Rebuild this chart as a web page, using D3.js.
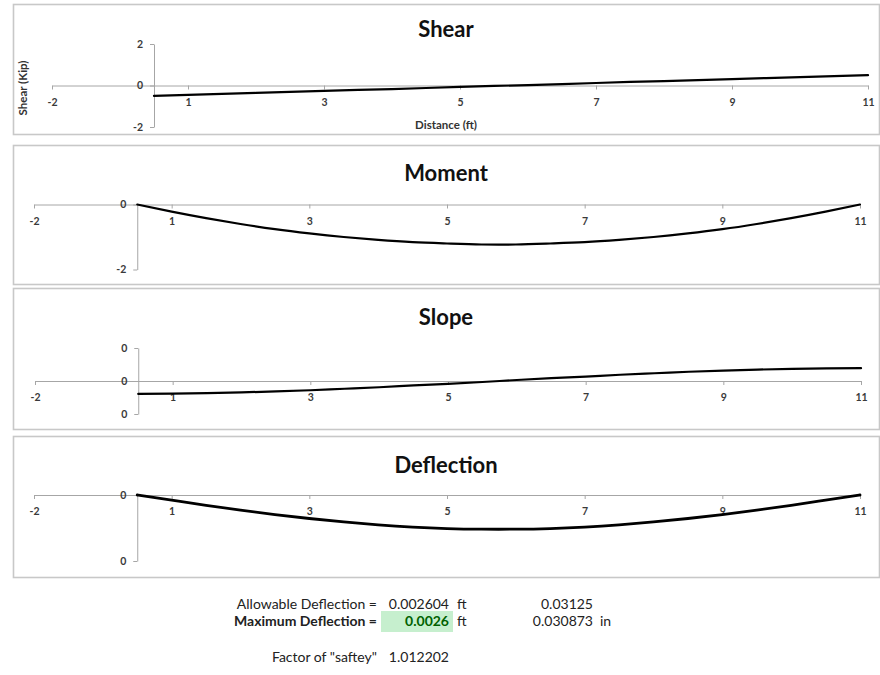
<!DOCTYPE html>
<html>
<head>
<meta charset="utf-8">
<script src="https://cdn.jsdelivr.net/npm/d3@7"></script>
<style>
  html, body { margin: 0; padding: 0; background: #fff; }
  svg { display: block; }
  text { font-family: Lato, "Open Sans", "DejaVu Sans", sans-serif; }
</style>
</head>
<body>
<svg id="chart" width="880" height="675"></svg>
<script>
// ---------------- data ----------------
const distance = [0.5, 1, 1.5, 2, 2.5, 3, 3.5, 4, 4.5, 5, 5.5, 6, 6.5, 7, 7.5, 8, 8.5, 9, 9.5, 10, 10.5, 11];
const shear = [-0.50, -0.45, -0.40, -0.36, -0.31, -0.26, -0.21, -0.17, -0.12, -0.07, -0.02, 0.02, 0.07, 0.12, 0.17, 0.21, 0.26, 0.31, 0.36, 0.40, 0.45, 0.50];
const moment = [0, -0.22, -0.42, -0.60, -0.76, -0.89, -1.00, -1.09, -1.16, -1.20, -1.23, -1.23, -1.20, -1.16, -1.09, -1.00, -0.89, -0.76, -0.60, -0.42, -0.22, 0];
const slope = [-0.00078, -0.00077, -0.00074, -0.00069, -0.00063, -0.00056, -0.00047, -0.00038, -0.00027, -0.00017, -0.00006, 0.00006, 0.00017, 0.00027, 0.00038, 0.00047, 0.00056, 0.00063, 0.00069, 0.00074, 0.00077, 0.00078];
const deflection = [0, -0.00039, -0.00078, -0.00114, -0.00148, -0.00178, -0.00204, -0.00226, -0.00243, -0.00254, -0.00259, -0.00259, -0.00254, -0.00243, -0.00226, -0.00204, -0.00178, -0.00148, -0.00114, -0.00078, -0.00039, 0];

const xTickValues = [-1, 1, 3, 5, 7, 9, 11];
const xTickLabels = ["-2", "1", "3", "5", "7", "9", "11"];

const shearTickValues = [2, 0, -2];
const shearTickLabels = ["2", "0", "-2"];
const momentTickValues = [0, -2];
const momentTickLabels = ["0", "-2"];
const slopeTickValues = [0.002, 0, -0.002];
const slopeTickLabels = ["0", "0", "0"];
const deflTickValues = [0, -0.005];
const deflTickLabels = ["0", "0"];

const panelTitles = ["Shear", "Moment", "Slope", "Deflection"];
const shearYTitle = "Shear (Kip)";
const shearXTitle = "Distance (ft)";

const summaryLabels = ["Allowable Deflection =", "Maximum Deflection =", "Factor of \"saftey\""];
const summaryValues = ["0.002604", "0.0026", "1.012202"];
const summaryUnits = ["ft", "ft", ""];
const summaryInches = ["0.03125", "0.030873", ""];
const summaryInchUnits = ["", "in", ""];

// ---------------- layout ----------------
const svg = d3.select("#chart");
svg.append("rect").attr("width", 880).attr("height", 675).attr("fill", "#fff");

const panels = [
  { title: panelTitles[0], top: 4, bottom: 134, titleY: 29,
    xr: [52, 868], yDomain: [-2, 2], yRange: [127, 44],
    yTicks: shearTickValues, yLabels: shearTickLabels, values: shear, width: 2.2, curve: d3.curveLinear },
  { title: panelTitles[1], top: 145, bottom: 284, titleY: 173,
    xr: [34, 860], yDomain: [-2, 0], yRange: [269.5, 204.5],
    yTicks: momentTickValues, yLabels: momentTickLabels, values: moment, width: 2.2, curve: d3.curveNatural },
  { title: panelTitles[2], top: 288, bottom: 429, titleY: 317,
    xr: [35, 861], yDomain: [-0.002, 0.002], yRange: [414, 348],
    yTicks: slopeTickValues, yLabels: slopeTickLabels, values: slope, width: 2.2, curve: d3.curveNatural },
  { title: panelTitles[3], top: 436, bottom: 577, titleY: 465,
    xr: [34, 860], yDomain: [-0.005, 0], yRange: [561, 495],
    yTicks: deflTickValues, yLabels: deflTickLabels, values: deflection, width: 2.8, curve: d3.curveNatural }
];

const axisColor = "#a6a6a6";
const labelColor = "#3a3a3a";

panels.forEach((p, i) => {
  const g = svg.append("g");
  g.append("rect")
    .attr("x", 13.5).attr("y", p.top + 0.5)
    .attr("width", 866).attr("height", p.bottom - p.top)
    .attr("fill", "#fff").attr("stroke", "#c8c8c8").attr("stroke-width", 1.6);

  g.append("text")
    .attr("x", 446).attr("y", p.titleY + 7.5)
    .attr("text-anchor", "middle")
    .attr("font-size", 22).attr("font-weight", 700).attr("fill", "#111")
    .text(p.title);

  const x = d3.scaleLinear().domain([xTickValues[0], xTickValues[xTickValues.length - 1]]).range(p.xr);
  const y = d3.scaleLinear().domain(p.yDomain).range(p.yRange);

  // x axis at y = 0
  const xAxis = d3.axisBottom(x)
    .tickValues(xTickValues)
    .tickFormat((d, k) => xTickLabels[k])
    .tickSize(4).tickSizeOuter(0).tickPadding(9);
  const gx = g.append("g").attr("transform", `translate(0,${y(0)})`).call(xAxis);
  gx.select(".domain").attr("stroke", axisColor);
  gx.selectAll(".tick line").attr("stroke", axisColor);
  gx.selectAll(".tick text").attr("fill", labelColor).attr("font-size", 10.5)
    .attr("font-weight", 700).attr("font-family", "Lato, sans-serif");

  // y axis at first distance
  const yAxis = d3.axisLeft(y)
    .tickValues(p.yTicks)
    .tickFormat((d, k) => p.yLabels[k])
    .tickSize(4).tickSizeOuter(0).tickPadding(7);
  const gy = g.append("g").attr("transform", `translate(${x(distance[0])},0)`).call(yAxis);
  gy.select(".domain").attr("stroke", axisColor);
  gy.selectAll(".tick line").attr("stroke", axisColor);
  gy.selectAll(".tick text").attr("fill", labelColor).attr("font-size", 10.5)
    .attr("font-weight", 700).attr("font-family", "Lato, sans-serif");

  const line = d3.line()
    .x((d, k) => x(distance[k]))
    .y(d => y(d))
    .curve(p.curve);
  g.append("path")
    .datum(p.values)
    .attr("d", line)
    .attr("fill", "none")
    .attr("stroke", "#000")
    .attr("stroke-width", p.width)
    .attr("stroke-linejoin", "round")
    .attr("stroke-linecap", "round");

  if (i === 0) {
    g.append("text")
      .attr("transform", "translate(27,88) rotate(-90)")
      .attr("text-anchor", "middle")
      .attr("font-size", 11.5).attr("font-weight", 700).attr("fill", "#333")
      .text(shearYTitle);
    g.append("text")
      .attr("x", 446).attr("y", 129)
      .attr("text-anchor", "middle")
      .attr("font-size", 11.5).attr("font-weight", 700).attr("fill", "#333")
      .text(shearXTitle);
  }
});

// ---------------- summary block ----------------
const rowY = [609, 626, 662];
const sg = svg.append("g").attr("font-size", 14).attr("fill", "#222");

// highlight cell for maximum deflection
sg.append("rect").attr("x", 381).attr("y", 611).attr("width", 72).attr("height", 21)
  .attr("fill", "#c6efce");

summaryLabels.forEach((t, k) => {
  sg.append("text").attr("x", 377).attr("y", rowY[k]).attr("text-anchor", "end")
    .attr("font-weight", k === 1 ? 700 : 400).attr("fill", "#222").text(t);
  sg.append("text").attr("x", 449).attr("y", rowY[k]).attr("text-anchor", "end")
    .attr("font-weight", k === 1 ? 700 : 400)
    .attr("fill", k === 1 ? "#006100" : "#222").text(summaryValues[k]);
  if (summaryUnits[k]) {
    sg.append("text").attr("x", 457).attr("y", rowY[k]).attr("fill", "#222").text(summaryUnits[k]);
  }
  if (summaryInches[k]) {
    sg.append("text").attr("x", 593).attr("y", rowY[k]).attr("text-anchor", "end")
      .attr("fill", "#222").text(summaryInches[k]);
  }
  if (summaryInchUnits[k]) {
    sg.append("text").attr("x", 600).attr("y", rowY[k]).attr("fill", "#222").text(summaryInchUnits[k]);
  }
});
</script>
</body>
</html>
